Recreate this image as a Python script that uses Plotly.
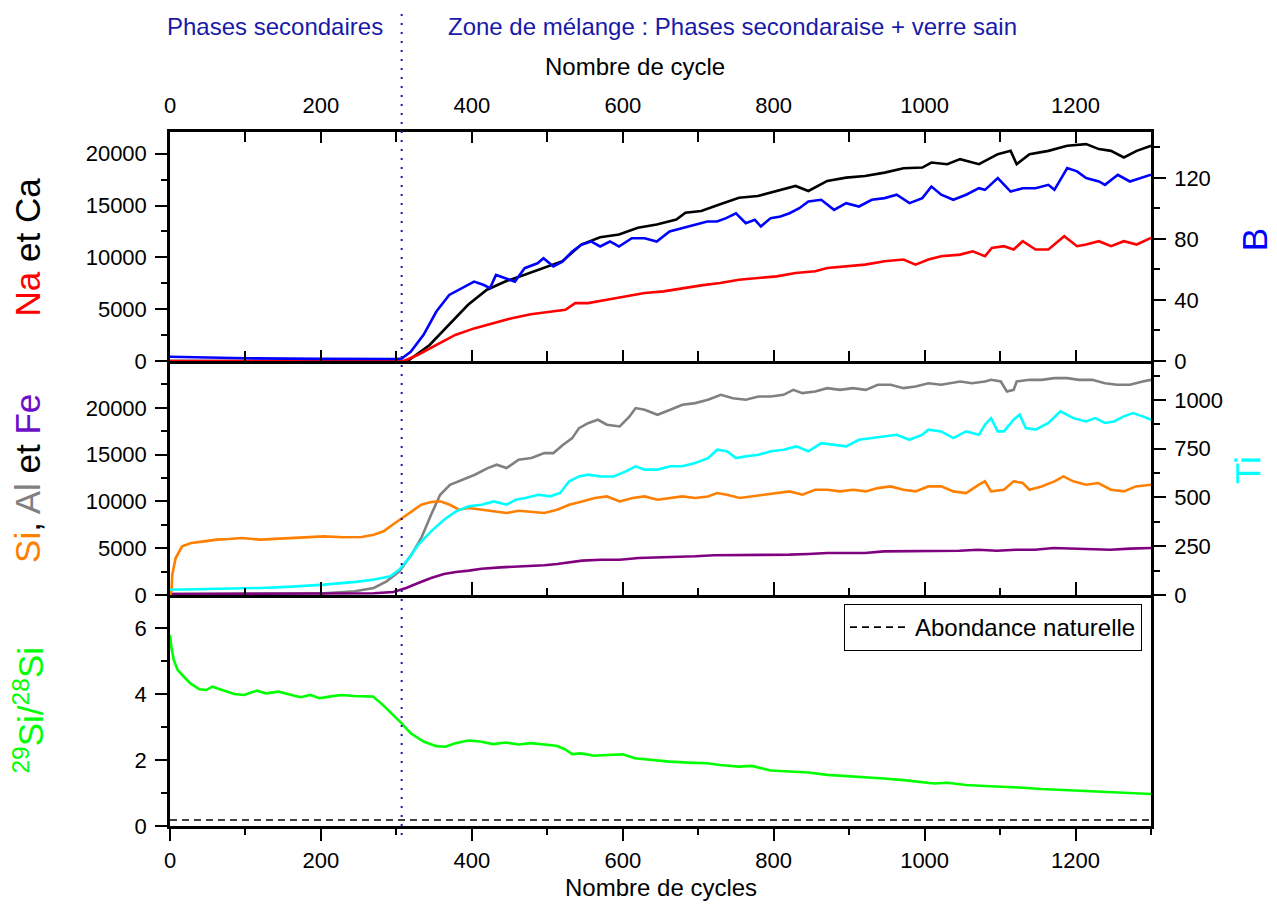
import plotly.graph_objects as go

# ---------------- data ----------------
# Top panel: Na and Ca (left axis), B (right axis)
ca_x = [0, 100, 200, 300, 315, 344, 370, 395, 420, 445, 470, 495, 520, 545, 570, 595, 620, 645, 671, 683,
        704, 729, 754, 779, 804, 829, 846, 871, 896, 921, 947, 972, 997, 1009, 1030, 1047, 1072, 1097,
        1114, 1122, 1139, 1164, 1189, 1214, 1231, 1247, 1264, 1281, 1300]
ca_y = [0, 0, 0, 0, 0, 1550, 3490, 5430, 6880, 7690, 8330, 8980, 9630, 11240, 11950, 12210, 12860, 13180,
        13660, 14310, 14470, 15120, 15760, 15920, 16410, 16890, 16410, 17380, 17700, 17860, 18180, 18600,
        18670, 19150, 18990, 19480, 18990, 19960, 20280, 18990, 19960, 20280, 20770, 20930, 20450, 20280,
        19640, 20280, 20770]

na_x = [0, 100, 200, 300, 310, 328, 353, 378, 403, 428, 453, 478, 503, 524, 537, 554, 579, 604, 629, 654,
        679, 704, 729, 754, 779, 804, 829, 855, 871, 896, 921, 947, 972, 988, 1005, 1022, 1047, 1064, 1080,
        1089, 1105, 1118, 1130, 1147, 1164, 1185, 1202, 1214, 1231, 1247, 1264, 1281, 1300]
na_y = [0, 0, 0, 0, 0, 580, 1550, 2520, 3150, 3650, 4130, 4520, 4720, 4940, 5590, 5590, 5910, 6230, 6560,
        6720, 7040, 7300, 7530, 7850, 8010, 8170, 8490, 8660, 8980, 9140, 9300, 9630, 9790, 9300, 9790,
        10110, 10270, 10590, 10110, 10920, 11080, 10760, 11560, 10760, 10760, 12050, 11080, 11240, 11560,
        11080, 11560, 11240, 11890]

b_x = [0, 50, 100, 200, 280, 300, 307, 319, 336, 353, 370, 386, 403, 416, 424, 432, 445, 457, 470, 487,
       495, 508, 520, 533, 545, 558, 570, 583, 595, 612, 629, 645, 662, 679, 696, 712, 725, 737, 750, 763,
       775, 783, 796, 809, 821, 834, 846, 863, 880, 896, 913, 930, 947, 963, 980, 997, 1009, 1022, 1038,
       1055, 1072, 1080, 1097, 1114, 1130, 1147, 1164, 1172, 1189, 1202, 1214, 1231, 1239, 1256, 1272,
       1285, 1300]
b_y = [2.8, 2.2, 1.8, 1.4, 1.2, 1.3, 1.7, 6.1, 17.1, 32.4, 43.3, 47.7, 52.0, 49.8, 47.7, 56.4, 54.2, 52.0,
       60.8, 64.0, 67.3, 61.9, 65.1, 71.7, 76.1, 78.3, 75.0, 78.3, 75.0, 80.4, 80.4, 78.3, 84.8, 87.0, 89.2,
       91.4, 91.4, 93.6, 96.8, 90.3, 92.5, 88.1, 93.6, 94.7, 96.8, 100.1, 104.5, 105.6, 99.0, 103.4, 101.2,
       105.6, 106.7, 108.9, 103.4, 106.7, 114.3, 108.9, 105.6, 108.9, 113.2, 112.1, 119.8, 111.0, 113.2,
       113.2, 115.4, 112.1, 126.4, 124.2, 119.8, 117.6, 115.4, 122.0, 117.6, 119.8, 122.0]

# Middle panel: Si, Al, Fe (left axis), Ti (right axis)
si_x = [0, 2, 3, 7.5, 16, 28, 45, 62, 78, 95, 120, 145, 162, 179, 204, 229, 254, 270, 283, 295, 308, 321,
        333, 346, 358, 371, 383, 396, 412, 429, 446, 462, 479, 496, 513, 529, 546, 563, 579, 596, 613, 629,
        646, 663, 679, 696, 713, 725, 738, 755, 771, 788, 805, 821, 838, 855, 871, 888, 905, 922, 938, 955,
        972, 988, 1005, 1022, 1038, 1055, 1072, 1080, 1088, 1105, 1118, 1130, 1139, 1155, 1172, 1184, 1197,
        1214, 1230, 1247, 1264, 1280, 1300]
si_y = [0, 390, 2170, 3950, 5200, 5550, 5730, 5910, 5980, 6090, 5910, 6010, 6090, 6160, 6260, 6160, 6190,
        6440, 6800, 7510, 8220, 8930, 9640, 9930, 10000, 9640, 9110, 9290, 9110, 8930, 8760, 9000, 8860,
        8760, 9110, 9640, 10000, 10360, 10530, 10000, 10360, 10530, 10180, 10360, 10530, 10360, 10530,
        10890, 10710, 10360, 10530, 10710, 10890, 11070, 10710, 11250, 11250, 11070, 11250, 11070, 11420,
        11600, 11250, 11070, 11600, 11600, 11070, 10890, 11780, 12140, 11070, 11250, 12140, 11960, 11250,
        11600, 12140, 12670, 12140, 11780, 11960, 11250, 11070, 11600, 11780]

al_x = [0, 100, 204, 245, 270, 287, 304, 320, 333, 346, 358, 371, 387, 404, 421, 433, 446, 462, 479, 496,
        508, 521, 533, 542, 554, 567, 579, 596, 609, 617, 629, 646, 663, 679, 696, 713, 730, 746, 763, 780,
        796, 813, 826, 838, 855, 871, 888, 905, 922, 938, 955, 972, 988, 1005, 1022, 1047, 1063, 1080,
        1088, 1101, 1109, 1118, 1122, 1139, 1155, 1172, 1189, 1205, 1222, 1239, 1255, 1272, 1289, 1300]
al_y = [100, 120, 180, 390, 750, 1460, 2530, 4310, 6090, 8580, 10710, 11780, 12310, 12850, 13560, 13920,
        13560, 14450, 14630, 15160, 15160, 16050, 16760, 17830, 18360, 18720, 18190, 18010, 19080, 19970,
        19790, 19250, 19790, 20320, 20500, 20860, 21390, 21030, 20860, 21210, 21210, 21390, 21920, 21570,
        21750, 22100, 21920, 22100, 21920, 22460, 22460, 22100, 22280, 22630, 22460, 22810, 22630, 22810,
        22990, 22810, 21750, 21920, 22810, 22990, 22990, 23170, 23170, 22990, 22990, 22630, 22460, 22460,
        22810, 22990]

fe_x = [0, 100, 200, 270, 296, 313, 329, 346, 363, 379, 396, 413, 438, 463, 496, 513, 529, 546, 571, 596,
        621, 646, 671, 696, 721, 746, 771, 796, 821, 846, 871, 896, 921, 946, 971, 996, 1021, 1046, 1071,
        1096, 1121, 1146, 1171, 1196, 1221, 1246, 1272, 1300]
fe_y = [100, 100, 120, 180, 320, 750, 1280, 1820, 2240, 2460, 2600, 2810, 2950, 3030, 3170, 3310, 3520,
        3670, 3770, 3770, 3950, 4020, 4020, 4130, 4240, 4240, 4240, 4310, 4310, 4380, 4480, 4480, 4480,
        4660, 4660, 4730, 4660, 4730, 4840, 4730, 4840, 4840, 5020, 4950, 4950, 4840, 4950, 5020]

ti_x = [0, 37, 78, 120, 162, 204, 246, 271, 292, 304, 317, 329, 346, 363, 379, 396, 413, 429, 446, 458,
        471, 488, 504, 517, 529, 542, 554, 571, 588, 604, 617, 629, 646, 663, 679, 696, 713, 725, 738, 750,
        763, 780, 796, 813, 830, 846, 863, 880, 896, 913, 930, 946, 963, 980, 997, 1005, 1022, 1038, 1055,
        1072, 1080, 1088, 1097, 1105, 1118, 1126, 1134, 1147, 1164, 1180, 1197, 1214, 1226, 1239, 1251,
        1264, 1276, 1289, 1300]
ti_y = [27, 29, 32, 36, 43, 53, 67, 79, 96, 130, 190, 258, 326, 386, 429, 455, 463, 480, 463, 489, 497,
        514, 506, 523, 583, 608, 617, 608, 608, 634, 660, 643, 643, 660, 660, 677, 702, 745, 737, 702, 711,
        719, 737, 745, 762, 737, 779, 771, 762, 796, 805, 813, 822, 796, 822, 848, 839, 805, 839, 822, 873,
        907, 839, 839, 899, 925, 856, 848, 882, 942, 907, 890, 907, 882, 890, 916, 933, 916, 899]

# Bottom panel: 29Si/28Si ratio
ratio_x = [0, 1.7, 5, 10, 18, 27, 39, 48, 56, 69, 85, 98, 115, 127, 144, 161, 173, 186, 198, 211, 227,
           244, 261, 269, 282, 294, 307, 319, 336, 353, 365, 378, 395, 411, 428, 445, 462, 478, 495, 512,
           524, 533, 545, 562, 579, 600, 616, 637, 662, 687, 712, 729, 754, 771, 783, 796, 821, 846, 871,
           896, 921, 946, 972, 997, 1013, 1030, 1055, 1080, 1105, 1130, 1155, 1181, 1206, 1231, 1256, 1281,
           1300]
ratio_y = [5.79, 5.43, 5.03, 4.73, 4.53, 4.32, 4.14, 4.12, 4.22, 4.12, 4.00, 3.97, 4.10, 4.02, 4.07, 3.97,
           3.90, 3.97, 3.87, 3.92, 3.97, 3.94, 3.94, 3.92, 3.67, 3.41, 3.11, 2.81, 2.56, 2.42, 2.40, 2.51,
           2.59, 2.56, 2.48, 2.53, 2.47, 2.51, 2.47, 2.43, 2.32, 2.18, 2.20, 2.13, 2.15, 2.17, 2.05, 2.00,
           1.95, 1.92, 1.90, 1.85, 1.80, 1.82, 1.75, 1.68, 1.65, 1.62, 1.55, 1.52, 1.47, 1.44, 1.39, 1.34,
           1.29, 1.31, 1.24, 1.21, 1.19, 1.16, 1.12, 1.09, 1.06, 1.04, 1.02, 0.99, 0.97]

natural_x = [0, 1300]
natural_y = [0.18, 0.18]

boundary_cycle = 307
conc_ticks = [0, 5000, 10000, 15000, 20000]

# ---------------- styles ----------------
FONT = "Liberation Sans, Arial, sans-serif"
C_NA, C_CA, C_B = "#ff0000", "#000000", "#0000ff"
C_SI, C_AL, C_FE, C_TI = "#ff7f00", "#808080", "#800080", "#00ffff"
C_RATIO = "#00ff00"
C_NOTE = "#1a1aa8"
LW = 2.6

fig = go.Figure()

def line(x, y, color, xa, ya, name, width=LW, dash=None, legend=False):
    fig.add_trace(go.Scatter(x=x, y=y, mode="lines", name=name, xaxis=xa, yaxis=ya,
                             line=dict(color=color, width=width, dash=dash),
                             showlegend=legend, hoverinfo="skip"))

# top panel (x3 / y3, B on y4)
line(ca_x, ca_y, C_CA, "x3", "y3", "Ca")
line(na_x, na_y, C_NA, "x3", "y3", "Na")
line(b_x, b_y, C_B, "x3", "y4", "B")
# middle panel (x2 / y2, Ti on y5)
line(al_x, al_y, C_AL, "x2", "y2", "Al")
line(fe_x, fe_y, C_FE, "x2", "y2", "Fe")
line(ti_x, ti_y, C_TI, "x2", "y5", "Ti")
line(si_x, si_y, C_SI, "x2", "y2", "Si")
# bottom panel (x / y)
line(natural_x, natural_y, "#000000", "x", "y", "Abondance naturelle", width=1.6, dash="7px,5px", legend=True)
line(ratio_x, ratio_y, C_RATIO, "x", "y", "29Si/28Si")

D1, D2 = 0.3329, 0.6700
tickfont = dict(family=FONT, size=22, color="black")
axcommon = dict(showgrid=False, zeroline=False, showline=True, linecolor="black", linewidth=2.5,
                tickcolor="black", tickwidth=2, tickfont=tickfont, automargin=False)

def minor(d, ln, side):
    return dict(dtick=d, ticklen=ln, tickcolor="black", tickwidth=2, ticks=side, showgrid=False)

xr = [0, 1300]
# the page body adds an 8 px offset, so the figure is sized to keep the plot area in place
fig.update_layout(
    width=1269, height=899,
    margin=dict(l=162, r=126, t=124, b=81),
    paper_bgcolor="white", plot_bgcolor="white",
    font=dict(family=FONT, size=22, color="black"),
    xaxis=dict(range=xr, domain=[0, 1], anchor="y", ticks="outside", ticklen=12, dtick=200, tick0=0,
               minor=minor(100, 6, "outside"), ticklabelstandoff=1, **axcommon),
    xaxis2=dict(range=xr, domain=[0, 1], anchor="y2", matches="x", ticks="inside", ticklen=13, dtick=200,
                tick0=0, showticklabels=False, minor=minor(100, 7, "inside"), **axcommon),
    xaxis3=dict(range=xr, domain=[0, 1], anchor="y3", matches="x", side="top", ticks="inside", ticklen=11,
                dtick=200, tick0=0, minor=minor(100, 10, "inside"), mirror="ticks",
                ticklabelstandoff=7, **axcommon),
    yaxis=dict(domain=[0, D1], anchor="x", range=[0, 7], ticks="outside", ticklen=12, dtick=2,
               minor=minor(1, 6, "outside"), mirror=True, ticklabelstandoff=4, **axcommon),
    yaxis2=dict(domain=[D1, D2], anchor="x2", range=[0, 25000], ticks="outside", ticklen=12,
                tickmode="array", tickvals=conc_ticks, ticktext=[str(v) for v in conc_ticks],
                minor=dict(tickvals=[2500, 7500, 12500, 17500, 22500], ticklen=6, tickcolor="black",
                           tickwidth=2, ticks="outside", showgrid=False),
                ticklabelstandoff=4, **axcommon),
    yaxis3=dict(domain=[D2, 1], anchor="x3", range=[0, 22100], ticks="outside", ticklen=12,
                tickmode="array", tickvals=conc_ticks, ticktext=[str(v) for v in conc_ticks],
                minor=dict(tickvals=[2500, 7500, 12500, 17500], ticklen=6, tickcolor="black",
                           tickwidth=2, ticks="outside", showgrid=False),
                ticklabelstandoff=4, **axcommon),
    yaxis4=dict(overlaying="y3", anchor="x3", side="right", range=[0, 150], ticks="outside", ticklen=12,
                dtick=40, minor=minor(20, 6, "outside"), ticklabelstandoff=4, **axcommon),
    yaxis5=dict(overlaying="y2", anchor="x2", side="right", range=[0, 1200], ticks="outside", ticklen=12,
                dtick=250, minor=minor(125, 6, "outside"), ticklabelstandoff=4, **axcommon),
    showlegend=True,
    legend=dict(x=0.9908, xanchor="right", y=0.3199, yanchor="top", bgcolor="white",
                bordercolor="black", borderwidth=1, font=dict(family=FONT, size=24, color="black"),
                itemwidth=60, tracegroupgap=0),
)

# vertical dotted separator
fig.add_shape(type="line", xref="x", yref="paper", x0=boundary_cycle, x1=boundary_cycle,
              y0=1.183, y1=-0.02, line=dict(color=C_NOTE, width=2, dash="2px,7px"), layer="above")

def ann(text, x, y, size=24, color="black", angle=0, xanchor="center"):
    fig.add_annotation(text=text, x=x, y=y, xref="paper", yref="paper", showarrow=False,
                       textangle=angle, xanchor=xanchor, yanchor="middle",
                       font=dict(family=FONT, size=size, color=color))

ann("Phases secondaires", 0.107, 1.152, color=C_NOTE)
ann("Zone de mélange : Phases secondaraise + verre sain", 0.573, 1.152, color=C_NOTE)
ann("Nombre de cycle", 0.4735, 1.0937)
ann("Nombre de cycles", 0.5, -0.0893)

ann("<span style='color:#ff0000'>Na</span> et Ca", -0.1448, (D2 + 1) / 2, size=35, angle=-90)
ann("<span style='color:#ff7f00'>Si</span>, <span style='color:#808080'>Al</span> et "
    "<span style='color:#6a10c8'>Fe</span>", -0.1448, (D1 + D2) / 2, size=35, angle=-90)
ann("<sup>29</sup>Si/<sup>28</sup>Si", -0.1437, D1 / 2, size=35, color=C_RATIO, angle=-90)
ann("B", 1.105, 0.844, size=35, color=C_B, angle=-90)
ann("Ti", 1.099, 0.513, size=35, color=C_TI, angle=-90)

fig.write_html("out.html")
